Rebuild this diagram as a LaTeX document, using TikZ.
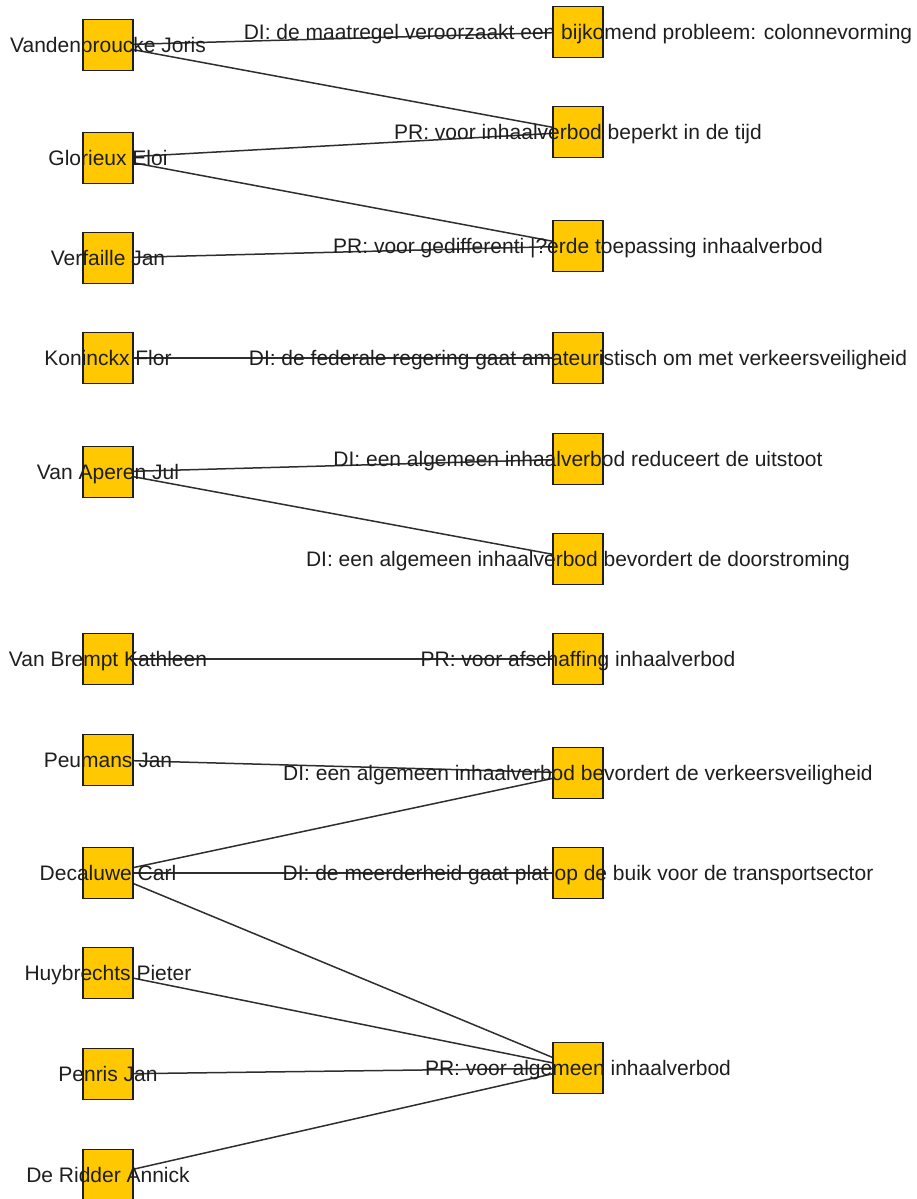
\documentclass[tikz,border=0pt]{standalone}
\usepackage{fontspec}
\setmainfont{Liberation Sans}
\usetikzlibrary{backgrounds}
\definecolor{boxfill}{HTML}{FFC800}
\definecolor{ink}{HTML}{1E1E1E}
\definecolor{edgecol}{HTML}{2E2E2E}
\begin{document}
\begin{tikzpicture}[x=1pt,y=-1pt,
  actor/.style={draw=ink,line width=1.3pt,fill=boxfill,minimum width=50pt,minimum height=51pt,inner sep=0pt},
  lbl/.style={text=ink,font=\fontsize{21}{25}\selectfont,text height=15pt,text depth=0pt,inner sep=0pt},
  link/.style={draw=edgecol,line width=1.5pt}]
\useasboundingbox (0,0) rectangle (917,1199);
% persons (left column)
\node[actor,label={[lbl]center:Vandenbroucke Joris}] (vj) at (108,45) {};
\node[actor,label={[lbl]center:Glorieux Eloi}] (ge) at (108,158) {};
\node[actor,label={[lbl]center:Verfaille Jan}] (vf) at (108,258) {};
\node[actor,label={[lbl]center:Koninckx Flor}] (kf) at (108,358) {};
\node[actor,label={[lbl]center:Van Aperen Jul}] (va) at (108,472) {};
\node[actor,label={[lbl]center:Van Brempt Kathleen}] (vb) at (108,659) {};
\node[actor,label={[lbl]center:Peumans Jan}] (pj) at (108,760) {};
\node[actor,label={[lbl]center:Decaluwe Carl}] (dc) at (108,873) {};
\node[actor,label={[lbl]center:Huybrechts Pieter}] (hp) at (108,973) {};
\node[actor,label={[lbl]center:Penris Jan}] (pe) at (108,1074) {};
\node[actor,label={[lbl]center:De Ridder Annick}] (dr) at (108,1175) {};
% statements (right column)
\node[actor,label={[lbl]center:DI: de maatregel veroorzaakt een bijkomend probleem: colonnevorming}] (s1) at (578,32) {};
\node[actor,label={[lbl]center:PR: voor inhaalverbod beperkt in de tijd}] (s2) at (578,132) {};
\node[actor,label={[lbl]center:PR: voor gedifferenti |?erde toepassing inhaalverbod}] (s3) at (578,246) {};
\node[actor,label={[lbl]center:DI: de federale regering gaat amateuristisch om met verkeersveiligheid}] (s4) at (578,358) {};
\node[actor,label={[lbl]center:DI: een algemeen inhaalverbod reduceert de uitstoot}] (s5) at (578,459) {};
\node[actor,label={[lbl]center:DI: een algemeen inhaalverbod bevordert de doorstroming}] (s6) at (578,559) {};
\node[actor,label={[lbl]center:PR: voor afschaffing inhaalverbod}] (s7) at (578,659) {};
\node[actor,label={[lbl]center:DI: een algemeen inhaalverbod bevordert de verkeersveiligheid}] (s8) at (578,773) {};
\node[actor,label={[lbl]center:DI: de meerderheid gaat plat op de buik voor de transportsector}] (s9) at (578,873) {};
\node[actor,label={[lbl]center:PR: voor algemeen inhaalverbod}] (s10) at (578,1068) {};
% connections, drawn behind the boxes
\begin{scope}[on background layer]
\foreach \a/\b in {vj/s1,vj/s2,ge/s2,ge/s3,vf/s3,kf/s4,va/s5,va/s6,vb/s7,pj/s8,dc/s8,dc/s9,dc/s10,hp/s10,pe/s10,dr/s10}
  \draw[link] (\a.center) -- (\b.center);
\end{scope}
\end{tikzpicture}
\end{document}
